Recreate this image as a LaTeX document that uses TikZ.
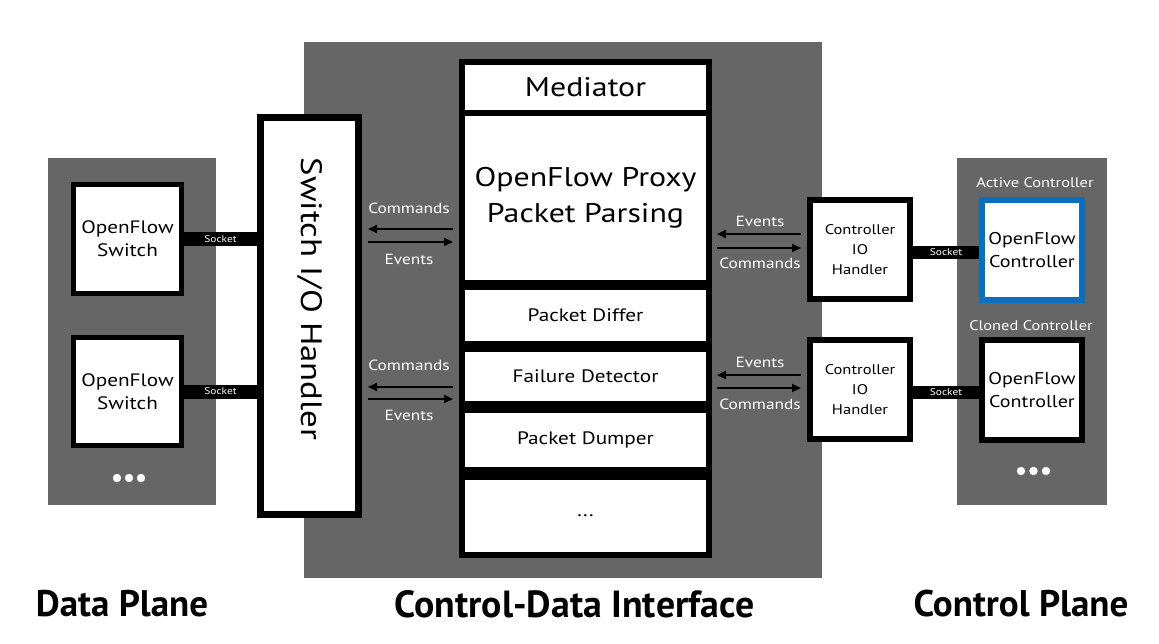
\documentclass[tikz,border=0pt]{standalone}
\usepackage{fontspec}
\setmainfont{PT Sans}[FakeStretch=1.18]
\newfontfamily\planefont{PT Sans}
\usetikzlibrary{arrows.meta}
\definecolor{panel}{HTML}{666666}
\definecolor{activeblue}{HTML}{0B6FBF}
\tikzset{
  box/.style={draw=black, fill=white, line width=5pt, align=center, inner sep=0pt},
  cell/.style={fill=white, inner sep=0pt, minimum width=241pt, align=center},
  sock/.style={draw=black, line width=14pt},
  socklbl/.style={text=white, font=\fontsize{9.7}{10}\selectfont, inner sep=0pt},
  flowlbl/.style={text=white, font=\fontsize{14.7}{16}\selectfont, inner sep=0pt},
  arr/.style={line width=2pt, -{Triangle[length=9pt,width=8pt]}},
  plane/.style={font=\planefont\bfseries\fontsize{37}{40}\selectfont, inner sep=0pt},
  dot/.style={fill=white, draw=none}
}
\begin{document}
\begin{tikzpicture}[x=1pt,y=-1pt]
\useasboundingbox[fill=white] (0,0) rectangle (1159,643);
% panels
\fill[panel] (48,158) rectangle (216,505);
\fill[panel] (304,42) rectangle (822,578);
\fill[panel] (957,158) rectangle (1107,505);
% switches
\node[box, minimum width=108pt, minimum height=109pt, font=\fontsize{18}{23}\selectfont] (sw1) at (127.5,239) {OpenFlow\\Switch};
\node[box, minimum width=108pt, minimum height=108pt, font=\fontsize{18}{23}\selectfont] (sw2) at (127.5,391.5) {OpenFlow\\Switch};
\foreach \x in {117,129,141} \fill[dot] (\x,478) circle (4.2);
% switch IO handler
\node[box, line width=7pt, minimum width=98pt, minimum height=397pt] (sio) at (309.5,316) {};
\node[rotate=-90, font=\fontsize{29.5}{30}\selectfont, inner sep=0pt] (siotxt) at ([yshift=17pt]sio.center) {Switch I/O Handler};
% sockets left
\draw[sock] (sw1.east) -- (sw1.east -| sio.west) node[midway, socklbl] (s1) {Socket};
\draw[sock] (sw2.east) -- (sw2.east -| sio.west) node[midway, socklbl] (s2) {Socket};
% center column
\fill[black] (459,59) rectangle (712,558);
\node[cell, minimum height=45pt, font=\fontsize{27}{30}\selectfont] (med) at (585.5,87.5) {Mediator};
\node[cell, minimum height=164pt, font=\fontsize{27}{36}\selectfont] (proxy) at (585.5,198) {OpenFlow Proxy\\Packet Parsing};
\node[cell, minimum height=51pt, font=\fontsize{18}{22}\selectfont] (differ) at (585.5,315.5) {Packet Differ};
\node[cell, minimum height=49pt, font=\fontsize{18}{22}\selectfont] (fail) at (585.5,376.5) {Failure Detector};
\node[cell, minimum height=54pt, font=\fontsize{18}{22}\selectfont] (dump) at (585.5,440) {Packet Dumper};
\node[cell, minimum height=72pt, font=\fontsize{18}{22}\selectfont] (more) at (585.5,516) {...};
% left arrows
\coordinate (la1) at (453,229);
\coordinate (la2) at (453,242);
\coordinate (la3) at (453,387);
\coordinate (la4) at (453,399);
\draw[arr, shorten >=6pt] (la1) -- (la1 -| sio.east);
\draw[arr, shorten <=6pt] (la2 -| sio.east) -- (la2);
\draw[arr, shorten >=6pt] (la3) -- (la3 -| sio.east);
\draw[arr, shorten <=6pt] (la4 -| sio.east) -- (la4);
\node[flowlbl] (lc1) at (409,208) {Commands};
\node[flowlbl] (le1) at (409,259) {Events};
\node[flowlbl] (lc2) at (409,365) {Commands};
\node[flowlbl] (le2) at (409,415) {Events};
% controller IO handlers
\node[box, line width=6pt, minimum width=100pt, minimum height=99pt, font=\fontsize{14}{20}\selectfont] (cio1) at (860,249.5) {Controller\\IO\\Handler};
\node[box, line width=6pt, minimum width=100pt, minimum height=99pt, font=\fontsize{14}{20}\selectfont] (cio2) at (860,389.5) {Controller\\IO\\Handler};
% right arrows
\coordinate (ra1) at (717,234);
\coordinate (ra2) at (717,248);
\coordinate (ra3) at (717,375);
\coordinate (ra4) at (717,388);
\draw[arr, shorten <=6pt] (ra1 -| cio1.west) -- (ra1);
\draw[arr, shorten >=6pt] (ra2) -- (ra2 -| cio1.west);
\draw[arr, shorten <=6pt] (ra3 -| cio2.west) -- (ra3);
\draw[arr, shorten >=6pt] (ra4) -- (ra4 -| cio2.west);
\node[flowlbl] (re1) at (760,221) {Events};
\node[flowlbl] (rc1) at (760,263) {Commands};
\node[flowlbl] (re2) at (760,362) {Events};
\node[flowlbl] (rc2) at (760,404) {Commands};
% controllers
\node[box, draw=activeblue, line width=6pt, minimum width=100pt, minimum height=100pt, font=\fontsize{17}{23}\selectfont] (ofc1) at (1032,250) {OpenFlow\\Controller};
\node[box, line width=6pt, minimum width=100pt, minimum height=100pt, font=\fontsize{17}{23}\selectfont] (ofc2) at (1032,390) {OpenFlow\\Controller};
\node[flowlbl, font=\fontsize{13.9}{16}\selectfont] (actl) at (1035,183) {Active Controller};
\node[flowlbl, font=\fontsize{13.9}{16}\selectfont] (clnl) at (1031,326) {Cloned Controller};
\foreach \x in {1021,1033.5,1046} \fill[dot] (\x,471) circle (4.2);
% right sockets
\draw[sock, line width=13pt] ([yshift=-3pt]cio1.east) -- ([yshift=-3pt]cio1.east -| ofc1.west) node[midway, socklbl] (s3) {Socket};
\draw[sock, line width=13pt] ([yshift=-3pt]cio2.east) -- ([yshift=-3pt]cio2.east -| ofc2.west) node[midway, socklbl] (s4) {Socket};
% plane labels
\node[plane] (dp) at (122,604) {Data Plane};
\node[plane, font=\planefont\bfseries\fontsize{37.8}{40}\selectfont] (cdi) at (574.5,604) {Control-Data Interface};
\node[plane] (cp) at (1021,604) {Control Plane};
\end{tikzpicture}
\end{document}
